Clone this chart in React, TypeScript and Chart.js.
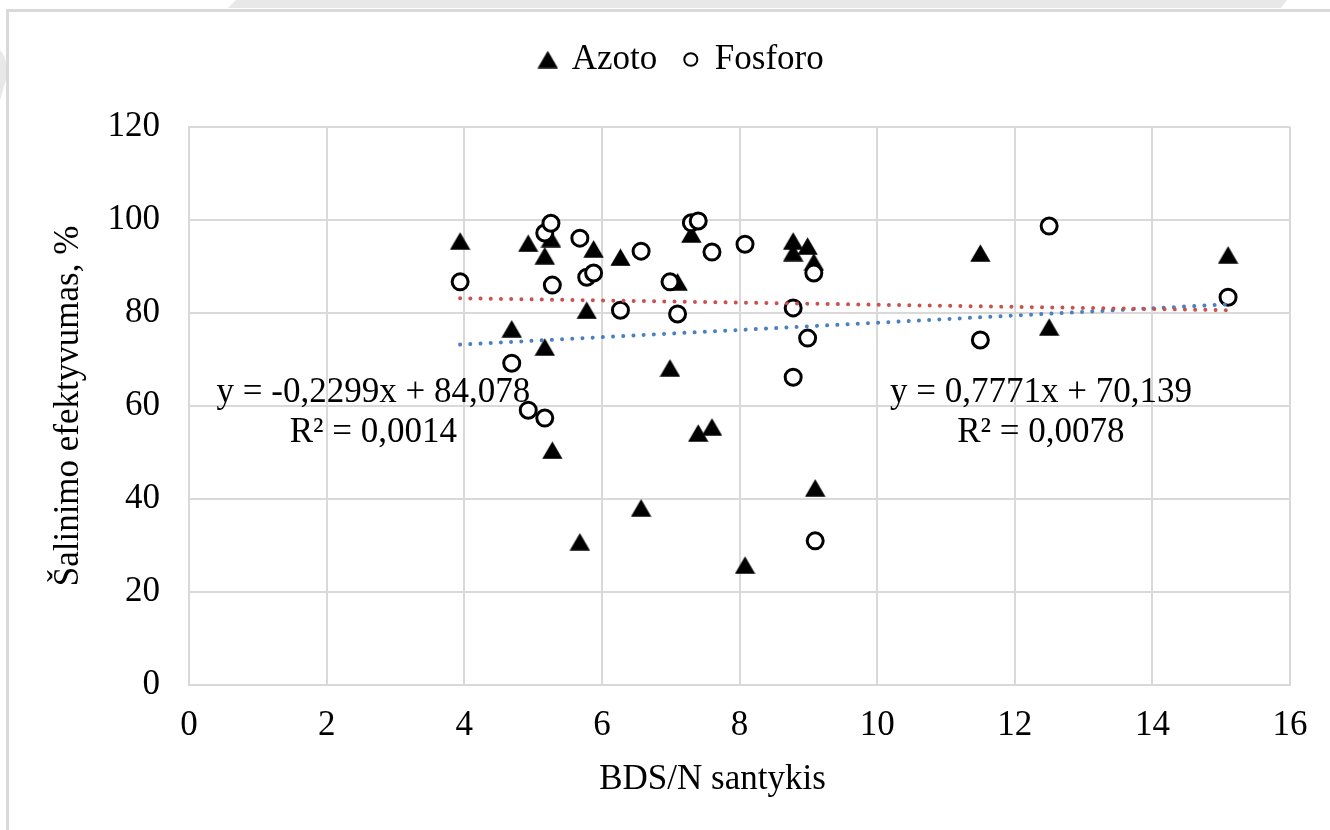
import React, { useEffect, useRef } from "react";
import { Chart, registerables } from "chart.js";

Chart.register(...registerables);

const FONT = "'Liberation Serif', 'Times New Roman', serif";

// Shared BDS/N ratio (x) values for both series
const BDS_N = [3.94, 4.69, 4.93, 5.17, 5.17, 5.26, 5.28, 5.68, 5.78, 5.88, 6.27, 6.57, 6.99, 7.1, 7.3, 7.4, 7.6, 8.08, 8.78, 8.78, 8.99, 9.08, 9.1, 11.5, 12.5, 15.1];
// Removal efficiency, %
const AZOTO = [95.5, 76.6, 95.0, 92.3, 72.7, 96.0, 50.5, 30.8, 80.6, 93.8, 92.0, 38.1, 68.2, 86.7, 97.0, 54.2, 55.5, 25.8, 95.5, 93.0, 94.4, 91.0, 42.4, 92.9, 77.0, 92.5];
const FOSFORO = [86.7, 69.2, 59.1, 97.2, 57.4, 99.3, 86.0, 96.1, 87.7, 88.6, 80.6, 93.3, 86.7, 79.8, 99.4, 99.8, 93.1, 94.8, 81.1, 66.2, 74.6, 88.6, 31.0, 74.2, 98.7, 83.4];

const SERIES_NAMES = ["Azoto", "Fosforo"];
const X_TITLE = "BDS/N santykis";
const Y_TITLE = "Šalinimo efektyvumas, %";

// Linear trendlines (as labelled on the chart)
const TREND_FOSFORO = { slope: -0.2299, intercept: 84.078 };
const TREND_AZOTO = { slope: 0.7771, intercept: 70.139 };
const EQ_FOSFORO = ["y = -0,2299x + 84,078", "R² = 0,0014"];
const EQ_AZOTO = ["y = 0,7771x + 70,139", "R² = 0,0078"];

// label anchor positions (in axis units)
const EQ_ANCHORS = [
  { x: 2.68, y: 58.6 },
  { x: 12.38, y: 58.6 },
];

const LEGEND_GAP = 40;
const X_TITLE_SHIFT = 27;

function makeTriangle(w: number, h: number) {
  const c = document.createElement("canvas");
  c.width = w;
  c.height = h;
  const g = c.getContext("2d")!;
  g.fillStyle = "#000";
  g.beginPath();
  g.moveTo(w / 2, 0.3);
  g.lineTo(w - 0.3, h - 0.3);
  g.lineTo(0.3, h - 0.3);
  g.closePath();
  g.fill();
  return c;
}

const backgroundPlugin = {
  id: "bgFrame",
  beforeDraw(chart: any) {
    const ctx = chart.ctx as CanvasRenderingContext2D;
    const W = chart.width;
    const H = chart.height;
    ctx.save();
    ctx.fillStyle = "#ffffff";
    ctx.fillRect(0, 0, W, H);
    // faint watermark fragments
    ctx.fillStyle = "#e8e8e8";
    ctx.beginPath();
    ctx.moveTo(236, 0);
    ctx.lineTo(1287, 0);
    ctx.lineTo(1281, 8);
    ctx.lineTo(228, 8);
    ctx.closePath();
    ctx.fill();
    ctx.beginPath();
    ctx.moveTo(0, 100);
    ctx.lineTo(0, 50);
    ctx.quadraticCurveTo(9, 60, 6, 80);
    ctx.closePath();
    ctx.fill();
    // outer frame
    ctx.fillStyle = "#d9d9d9";
    ctx.fillRect(6, 9, W - 6, 3);
    ctx.fillRect(6, 9, 3, H - 9);
    ctx.restore();
  },
};

const legendGapPlugin = {
  id: "legendGap",
  beforeLayout(chart: any) {
    const lg = chart.legend;
    if (lg && !lg.__gapPatched) {
      const orig = lg.fit.bind(lg);
      lg.fit = function () {
        orig();
        this.height += LEGEND_GAP;
      };
      lg.__gapPatched = true;
    }
  },
};

const equationPlugin = {
  id: "equations",
  afterDraw(chart: any) {
    const ctx = chart.ctx as CanvasRenderingContext2D;
    const xs = chart.scales.x;
    const ys = chart.scales.y;
    const blocks = [EQ_FOSFORO, EQ_AZOTO];
    ctx.save();
    ctx.font = `35px ${FONT}`;
    ctx.fillStyle = "#000";
    ctx.textAlign = "center";
    ctx.textBaseline = "middle";
    blocks.forEach((lines, i) => {
      const px = xs.getPixelForValue(EQ_ANCHORS[i].x);
      const py = ys.getPixelForValue(EQ_ANCHORS[i].y);
      lines.forEach((t, j) => {
        ctx.fillText(t, px, py + (j - (lines.length - 1) / 2) * 40);
      });
    });
    ctx.restore();
  },
};

export default function App() {
  const ref = useRef<HTMLCanvasElement | null>(null);

  useEffect(() => {
    const canvas = ref.current!;
    const tri = makeTriangle(21, 18);
    const xMin = Math.min(...BDS_N);
    const xMax = Math.max(...BDS_N);
    const trendPts = (t: { slope: number; intercept: number }) =>
      [xMin, xMax].map((x) => ({ x, y: t.slope * x + t.intercept }));

    const chart = new Chart(canvas, {
      type: "scatter",
      data: {
        datasets: [
          {
            label: SERIES_NAMES[0],
            data: BDS_N.map((x, i) => ({ x, y: AZOTO[i] })),
            pointStyle: tri as any,
            pointRadius: 10,
            backgroundColor: "#000",
            borderColor: "#000",
            borderWidth: 1,
            order: 2,
          },
          {
            label: SERIES_NAMES[1],
            data: BDS_N.map((x, i) => ({ x, y: FOSFORO[i] })),
            pointStyle: "circle",
            pointRadius: 8,
            backgroundColor: "#fff",
            borderColor: "#000",
            borderWidth: 3,
            order: 1,
          },
          {
            label: "trend-fosforo",
            data: trendPts(TREND_FOSFORO),
            showLine: true,
            borderColor: "#c9524e",
            backgroundColor: "#c9524e",
            borderWidth: 4,
            borderDash: [0.01, 10.2],
            borderCapStyle: "round",
            pointRadius: 0,
            order: 0,
          } as any,
          {
            label: "trend-azoto",
            data: trendPts(TREND_AZOTO),
            showLine: true,
            borderColor: "#4a7fc1",
            backgroundColor: "#4a7fc1",
            borderWidth: 4,
            borderDash: [0.01, 10.2],
            borderCapStyle: "round",
            pointRadius: 0,
            order: 0,
          } as any,
        ],
      },
      options: {
        responsive: false,
        maintainAspectRatio: false,
        animation: false,
        devicePixelRatio: 1,
        events: [],
        layout: { padding: { left: 75, right: 40, top: 15, bottom: 20 } },
        plugins: {
          tooltip: { enabled: false },
          legend: {
            display: true,
            position: "top",
            align: "center",
            labels: {
              usePointStyle: true,
              pointStyleWidth: 13,
              boxHeight: 9,
              padding: 27,
              color: "#000",
              font: { family: FONT, size: 35 },
              generateLabels: (c: any) =>
                (Chart.defaults.plugins.legend.labels.generateLabels as any)(c).map((it: any) =>
                  it.datasetIndex === 1 ? { ...it, lineWidth: 2 } : it
                ),
              filter: (it: any) => it.datasetIndex < 2,
              sort: (a: any, b: any) => a.datasetIndex - b.datasetIndex,
            },
          },
        },
        scales: {
          x: {
            type: "linear",
            position: "bottom",
            min: 0,
            max: 16,
            ticks: {
              stepSize: 2,
              color: "#000",
              font: { family: FONT, size: 35 },
              padding: 20,
              maxRotation: 0,
            },
            grid: { color: "#d9d9d9", lineWidth: 2, drawTicks: false },
            border: { display: true, color: "#d9d9d9", width: 2 },
            title: {
              display: false,
            },
            afterFit: (s: any) => {
              s.height = 125;
            },
          },
          y: {
            type: "linear",
            min: 0,
            max: 120,
            ticks: {
              stepSize: 20,
              color: "#000",
              font: { family: FONT, size: 35 },
              padding: 29,
            },
            grid: { color: "#d9d9d9", lineWidth: 2, drawTicks: false },
            border: { display: true, color: "#d9d9d9", width: 2 },
            title: {
              display: true,
              text: Y_TITLE,
              color: "#000",
              font: { family: FONT, size: 35 },
              padding: { top: -27, bottom: 0 },
            },
            afterFit: (s: any) => {
              s.width = 114;
            },
          },
        },
      },
      plugins: [
        backgroundPlugin,
        legendGapPlugin,
        equationPlugin,
        {
          id: "xTitle",
          afterDraw(c: any) {
            const ctx = c.ctx as CanvasRenderingContext2D;
            const xs = c.scales.x;
            ctx.save();
            ctx.font = `35px ${FONT}`;
            ctx.fillStyle = "#000";
            ctx.textAlign = "center";
            ctx.textBaseline = "middle";
            ctx.fillText(X_TITLE, (xs.left + xs.right) / 2 - X_TITLE_SHIFT, xs.bottom - 30);
            ctx.restore();
          },
        },
      ],
    } as any);

    return () => chart.destroy();
  }, []);

  return (
    <div style={{ position: "fixed", left: 0, top: 0, width: 1330, height: 830, background: "#fff" }}>
      <canvas ref={ref} width={1330} height={830} style={{ display: "block", width: 1330, height: 830 }} />
    </div>
  );
}
